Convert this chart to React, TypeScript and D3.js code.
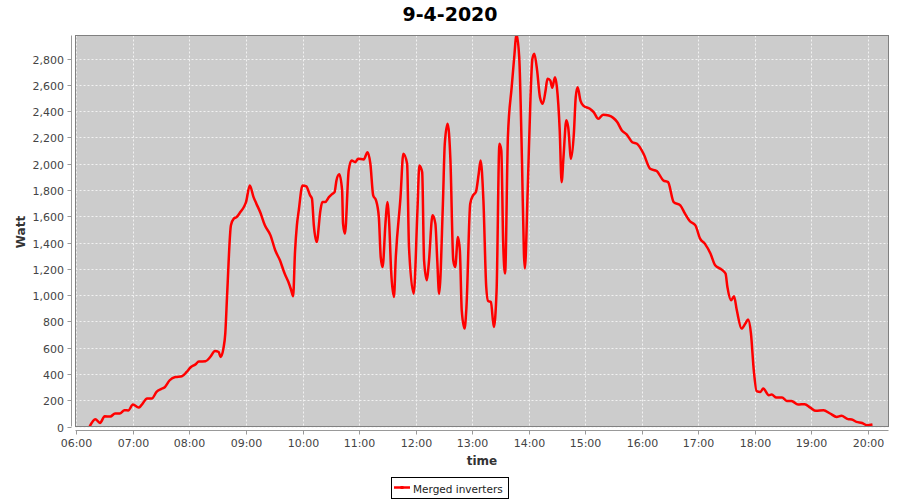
import React from "react";
import * as d3 from "d3";

const chartTitle = "9-4-2020";
const seriesName = "Merged inverters";
const xAxisLabel = "time";
const yAxisLabel = "Watt";

const times = [
  "06:14","06:20","06:25","06:30","06:36","06:41","06:46","06:51","06:55","07:00",
  "07:06","07:09","07:15","07:20","07:25","07:31","07:34","07:39","07:45","07:52",
  "07:57","08:01","08:06","08:10","08:17","08:22","08:27","08:31","08:33","08:36",
  "08:38","08:40","08:44","08:47","08:50","08:54","08:58","09:00","09:04","09:08",
  "09:11","09:15","09:20","09:26","09:31","09:36","09:41","09:45","09:48","09:50",
  "09:52","09:54","09:56","10:00","10:04","10:08","10:10","10:12","10:15","10:19",
  "10:21","10:24","10:28","10:31","10:34","10:36","10:39","10:42","10:43","10:45",
  "10:49","10:52","10:56","10:59","11:05","11:09","11:12","11:15","11:18","11:21",
  "11:23","11:25","11:28","11:30","11:32","11:34","11:37","11:39","11:44","11:47",
  "11:51","11:53","11:58","12:02","12:04","12:07","12:09","12:12","12:14","12:18",
  "12:21","12:23","12:25","12:29","12:31","12:34","12:37","12:40","12:42","12:45",
  "12:47","12:49","12:52","12:54","12:58","13:01","13:04","13:07","13:09","13:12",
  "13:15","13:17","13:20","13:23","13:26","13:29","13:31","13:33","13:35","13:38",
  "13:42","13:45","13:47","13:50","13:53","13:55","13:56","13:59","14:02","14:04",
  "14:06","14:09","14:12","14:15","14:18","14:20","14:23","14:25","14:28","14:30",
  "14:33","14:35","14:37","14:40","14:42","14:45","14:48","14:50","14:52","14:55",
  "14:58","15:05","15:09","15:14","15:19","15:25","15:34","15:39","15:44","15:50",
  "15:55","16:02","16:09","16:16","16:23","16:28","16:34","16:41","16:46","16:51",
  "16:57","17:02","17:07","17:13","17:18","17:25","17:29","17:31","17:35","17:38",
  "17:41","17:46","17:50","17:53","17:56","17:59","18:02","18:06","18:09","18:15",
  "18:18","18:23","18:29","18:34","18:39","18:46","18:53","18:59","19:05","19:13",
  "19:20","19:27","19:32","19:39","19:43","19:48","19:54","19:59","20:05"
];

const watts = [
  0,56,27,78,76,99,99,124,122,167,
  144,162,213,213,263,289,301,352,377,382,
  415,449,471,494,497,529,575,567,529,593,
  709,1011,1531,1582,1594,1632,1675,1708,1835,1746,
  1696,1632,1531,1455,1341,1265,1164,1100,1037,991,
  1328,1531,1645,1835,1827,1759,1734,1531,1404,1645,
  1708,1708,1746,1767,1784,1873,1919,1797,1544,1468,
  1949,2025,2012,2038,2033,2088,2000,1759,1721,1594,
  1290,1214,1544,1708,1544,1189,986,1290,1746,2076,
  2000,1366,1011,1650,1987,1936,1265,1113,1240,1607,
  1544,1265,1011,1696,2152,2304,2025,1265,1214,1442,
  1341,884,745,910,1696,1759,1784,1924,2025,1721,
  1062,955,948,757,1037,2152,2101,1392,1164,2203,
  2583,2837,2990,2811,2000,1316,1202,1797,2507,2799,
  2837,2710,2507,2456,2558,2647,2634,2578,2659,2583,
  2253,1860,2050,2330,2278,2038,2228,2507,2583,2481,
  2443,2418,2393,2342,2373,2367,2317,2253,2223,2164,
  2152,2076,1962,1944,1873,1860,1708,1683,1620,1564,
  1531,1430,1392,1316,1227,1194,1164,1062,961,991,
  884,745,783,814,707,428,270,263,289,238,
  243,220,220,195,195,167,170,144,119,124,
  99,73,81,56,53,35,27,10,15
];

const yTickValues = [0,200,400,600,800,1000,1200,1400,1600,1800,2000,2200,2400,2600,2800];
const xTickLabels = ["06:00","07:00","08:00","09:00","10:00","11:00","12:00","13:00","14:00","15:00","16:00","17:00","18:00","19:00","20:00"];

const toMin = (s: string) => {
  const [h, m] = s.split(":").map(Number);
  return h * 60 + m;
};

export default function App() {
  const W = 900, H = 500;
  const L = 75.5, R = 888.5, T = 35.5, B = 426.5;
  const x = d3.scaleLinear().domain([359, 1222]).range([L, R]);
  const y = d3.scaleLinear().domain([0, 2976]).range([B, T]);
  const data = times.map((t, i) => ({ m: toMin(t), v: watts[i] }));
  const line = d3.line<{ m: number; v: number }>()
    .x(d => x(d.m))
    .y(d => y(d.v))
    .curve(d3.curveMonotoneX);
  const fmt = d3.format(",");
  const font = "'DejaVu Sans', sans-serif";
  const tickColor = "#444";
  const axisColor = "#999";

  return (
    <svg width={W} height={H} style={{ position: "absolute", left: 0, top: 0, background: "#fff" }}>
      <defs>
        <clipPath id="plotClip">
          <rect x={L} y={T} width={R - L} height={B - T} />
        </clipPath>
      </defs>
      <text x={450} y={21} textAnchor="middle" fontFamily={font} fontWeight="bold" fontSize={19} fill="#000">{chartTitle}</text>

      <rect x={L} y={T} width={R - L} height={B - T} fill="#cccccc" />
      {yTickValues.map(v => (
        <line key={"gy" + v} x1={L} x2={R} y1={Math.round(y(v)) + 0.5} y2={Math.round(y(v)) + 0.5}
          stroke="#f2f2f2" strokeWidth={1} strokeDasharray="2,2" />
      ))}
      {xTickLabels.map(lbl => {
        const xx = Math.round(x(toMin(lbl))) + 0.5;
        return <line key={"gx" + lbl} x1={xx} x2={xx} y1={T} y2={B} stroke="#f2f2f2" strokeWidth={1} strokeDasharray="2,2" />;
      })}
      <path d={line(data) || ""} fill="none" stroke="#ff0000" strokeWidth={2.5} strokeLinejoin="round" clipPath="url(#plotClip)" />
      <rect x={L} y={T} width={R - L} height={B - T} fill="none" stroke="#808080" strokeWidth={1} />

      {/* Y axis */}
      <line x1={71.5} x2={71.5} y1={T} y2={B} stroke={axisColor} />
      {yTickValues.map(v => {
        const yy = Math.round(y(v)) + 0.5;
        return (
          <g key={"yt" + v}>
            <line x1={67.5} x2={71.5} y1={yy} y2={yy} stroke={axisColor} />
            <text x={64} y={yy + 4} textAnchor="end" fontFamily={font} fontSize={11} fill={tickColor}>{fmt(v)}</text>
          </g>
        );
      })}
      <text transform={`translate(25,232) rotate(-90)`} textAnchor="middle" fontFamily={font} fontWeight="bold" fontSize={12} fill="#333">{yAxisLabel}</text>

      {/* X axis */}
      <line x1={L} x2={R} y1={430.5} y2={430.5} stroke={axisColor} />
      {xTickLabels.map(lbl => {
        const xx = Math.round(x(toMin(lbl))) + 0.5;
        return (
          <g key={"xt" + lbl}>
            <line x1={xx} x2={xx} y1={430.5} y2={434.5} stroke={axisColor} />
            <text x={xx} y={447} textAnchor="middle" fontFamily={font} fontSize={11} fill={tickColor}>{lbl}</text>
          </g>
        );
      })}
      <text x={(L + R) / 2} y={465} textAnchor="middle" fontFamily={font} fontWeight="bold" fontSize={12} fill="#333">{xAxisLabel}</text>

      {/* Legend */}
      <rect x={391.5} y={477.5} width={117} height={21} fill="#fff" stroke="#000" strokeWidth={1} />
      <line x1={394} x2={410} y1={487.5} y2={487.5} stroke="#ff0000" strokeWidth={2.5} />
      <rect x={400.5} y={486} width={3} height={3} fill="#ff0000" />
      <text x={413} y={492.5} fontFamily={font} fontSize={10.5} fill="#222">{seriesName}</text>
    </svg>
  );
}
